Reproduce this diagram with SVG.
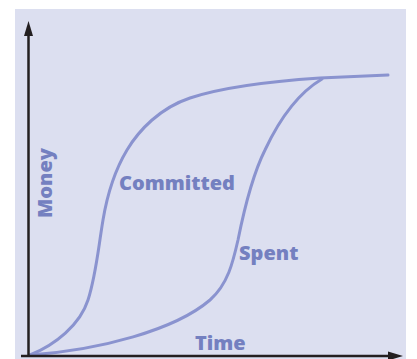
<svg xmlns="http://www.w3.org/2000/svg" width="417" height="359" viewBox="0 0 417 359">
<style>
.curve{fill:none;stroke:#8a93cf;stroke-width:3;stroke-linecap:round}
.axis{stroke:#231f20;stroke-width:2.5;fill:none}
.lbl{font-family:"Open Sans","Liberation Sans",sans-serif;font-weight:800;font-size:20px;fill:#7480c0}
</style>
<rect x="0" y="0" width="417" height="359" fill="#ffffff"/>
<rect x="15" y="9" width="391" height="350" fill="#dcdff0"/>
<g id="connectors">
<path id="committed" class="curve" d="M30,355 C55,345 80,325 88,300 S98,250 103,220 S115,170 127,150 S160,108 190,98 S260,82 320,78 L388,75"/>
<path id="spent" class="curve" d="M30,355 C100,350 175,330 210,300 C228,284 233,262 238,240 C246,200 255,170 265,150 C280,118 300,92 322,79"/>
</g>
<g id="axes">
<line class="axis" x1="28.5" y1="357" x2="28.5" y2="34"/>
<polygon points="28.5,21 24,36 33,36" fill="#231f20"/>
<line class="axis" x1="21" y1="356" x2="390" y2="356"/>
<polygon points="403,356 388,351.5 388,360.5" fill="#231f20"/>
</g>
<g id="label-committed"><text class="lbl" x="119" y="190">Committed</text></g>
<g id="label-spent"><text class="lbl" x="239" y="260">Spent</text></g>
<g id="label-time"><text class="lbl" x="195" y="350">Time</text></g>
<g id="label-money"><text class="lbl" transform="translate(52,218) rotate(-90)">Money</text></g>
</svg>
